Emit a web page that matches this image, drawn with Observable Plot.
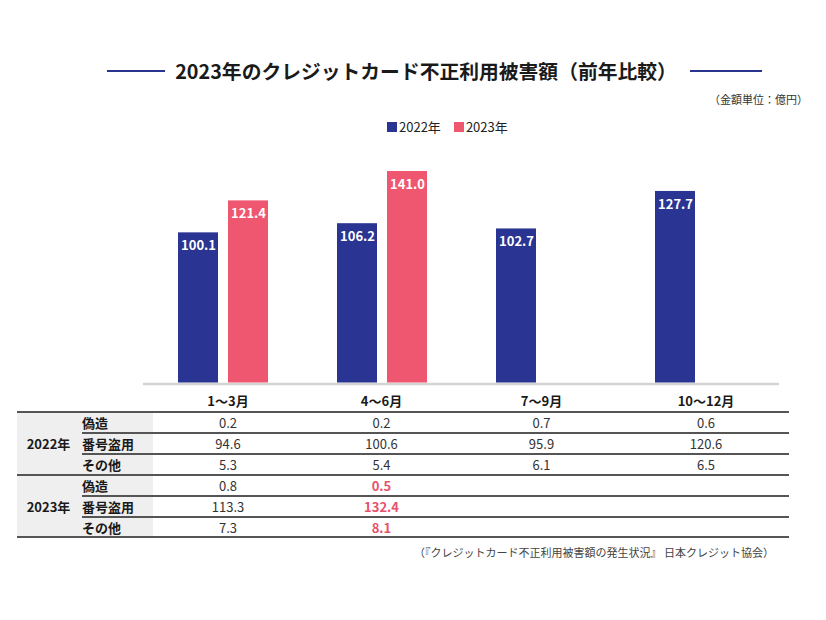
<!DOCTYPE html>
<html>
<head>
<meta charset="utf-8">
<script src="https://cdn.jsdelivr.net/npm/d3@7"></script>
<script src="https://cdn.jsdelivr.net/npm/@observablehq/plot@0.6"></script>
<style>
  html, body { margin: 0; padding: 0; background: #fff; }
  body { font-family: "Noto Sans CJK JP", "Noto Sans", sans-serif; color: #222; }
  #root { position: relative; width: 826px; height: 620px; overflow: hidden; }
  .abs { position: absolute; }
  .title { left: 0; width: 852px; top: 57px; text-align: center; font-size: 19.8px; font-weight: 700; line-height: 28px; color: #1a1a1a; }
  .tline { height: 2px; background: #2a3590; top: 70px; }
  .unit { right: 18px; top: 91px; font-size: 11px; color: #333; }
  .legend { top: 117px; left: 387px; display: flex; gap: 13px; font-size: 13px; color: #222; white-space: nowrap; }
  .legend span.sw { display: inline-block; width: 10px; height: 10px; margin-right: 2px; }
  .cell { position: absolute; font-size: 13px; line-height: 21px; text-align: center; color: #333; }
  .hdr { font-weight: 700; color: #1a1a1a; }
  .lbl { font-weight: 700; color: #1a1a1a; text-align: left; }
  .hl { color: #e8506b; font-weight: 700; }
  .rule { position: absolute; background: #555; }
  .foot { right: 52px; top: 544px; font-size: 11px; color: #444; }
</style>
</head>
<body>
<div id="root"></div>
<script>
// ---- data ----
const quarters = ["1〜3月", "4〜6月", "7〜9月", "10〜12月"];
const years = ["2022年", "2023年"];
const kinds = ["偽造", "番号盗用", "その他"];
const total2022 = [100.1, 106.2, 102.7, 127.7];
const total2023 = [121.4, 141.0];
const counterfeit2022 = [0.2, 0.2, 0.7, 0.6];
const numberTheft2022 = [94.6, 100.6, 95.9, 120.6];
const other2022 = [5.3, 5.4, 6.1, 6.5];
const counterfeit2023 = [0.8, 0.5];
const numberTheft2023 = [113.3, 132.4];
const other2023 = [7.3, 8.1];
const latestQuarter2023 = "4〜6月";

const navy = "#2a3492";
const pink = "#ef5670";

const root = document.getElementById("root");
function add(cls, html, style) {
  const d = document.createElement("div");
  d.className = cls;
  if (html != null) d.innerHTML = html;
  Object.assign(d.style, style || {});
  root.appendChild(d);
  return d;
}

// ---- title, unit, legend ----
add("abs title", "2023年のクレジットカード不正利用被害額（前年比較）");
add("abs tline", null, {left: "107px", width: "58px"});
add("abs tline", null, {left: "690px", width: "72px"});
add("abs unit", "（金額単位：億円）");
const lg = add("abs legend", "");
lg.innerHTML = years.map((y, i) =>
  `<div><span class="sw" style="background:${i ? pink : navy}"></span>${y}</div>`).join("");

// ---- bars ----
const barData = [
  ...total2022.map((v, i) => ({q: quarters[i], year: years[0], value: v})),
  ...total2023.map((v, i) => ({q: quarters[i], year: years[1], value: v}))
];

const chart = Plot.plot({
  width: 826,
  height: 272,
  marginLeft: 143,
  marginRight: 47,
  marginTop: 17.5,
  marginBottom: 29.5,
  fx: {domain: quarters, padding: 0, axis: null, label: null},
  x: {domain: years, paddingInner: 0.2, paddingOuter: 0.69, axis: null},
  y: {domain: [0, 150], axis: null},
  color: {domain: years, range: [navy, pink]},
  style: {fontFamily: '"Noto Sans CJK JP", "Noto Sans", sans-serif', background: "transparent", overflow: "visible"},
  marks: [
    Plot.ruleY([0], {stroke: "#d4d4d4", strokeWidth: 2.5, dy: 1}),
    Plot.barY(barData, {fx: "q", x: "year", y: "value", fill: "year"}),
    Plot.text(barData, {fx: "q", x: "year", y: "value", text: d => d.value.toFixed(1),
      dy: 13, fill: "white", fontWeight: "bold", fontSize: 13})
  ]
});
chart.style.position = "absolute";
chart.style.left = "0px";
chart.style.top = "140px";
root.appendChild(chart);

// ---- table ----
const colEdges = [153, 303, 460, 623, 789];
const tableLeft = 17, labelLeft = 82;
const headTop = 390;
const rowTops = [412, 433, 454, 475, 496, 517, 537];

add("abs", null, {left: tableLeft + "px", top: rowTops[0] + "px", width: (colEdges[0] - tableLeft) + "px",
  height: (rowTops[6] - rowTops[0]) + "px", background: "#efefef"});

quarters.forEach((q, i) => {
  add("cell hdr", q, {left: colEdges[i] + "px", width: (colEdges[i + 1] - colEdges[i]) + "px", top: headTop + "px"});
});

const rows2022 = [counterfeit2022, numberTheft2022, other2022];
const rows2023 = [counterfeit2023, numberTheft2023, other2023];
[rows2022, rows2023].forEach((rows, g) => {
  const top0 = rowTops[g * 3];
  add("cell hdr", years[g], {left: tableLeft + "px", width: (labelLeft - tableLeft - 2) + "px",
    top: (top0 + 21) + "px"});
  rows.forEach((vals, r) => {
    const top = rowTops[g * 3 + r];
    add("cell lbl", kinds[r], {left: labelLeft + "px", top: top + "px"});
    vals.forEach((v, i) => {
      const hl = g === 1 && quarters[i] === latestQuarter2023;
      add("cell" + (hl ? " hl" : ""), v.toFixed(1), {left: colEdges[i] + "px",
        width: (colEdges[i + 1] - colEdges[i]) + "px", top: top + "px"});
    });
  });
});

rowTops.forEach((y, k) => {
  const thick = k % 3 === 0;
  const left = thick ? tableLeft : labelLeft;
  add("rule", null, {left: left + "px", width: (colEdges[4] - left) + "px",
    top: (y - (thick ? 1 : 0.75)) + "px", height: (thick ? 2 : 1.5) + "px"});
});

add("abs foot", "（『クレジットカード不正利用被害額の発生状況』 日本クレジット協会）");
</script>
</body>
</html>
